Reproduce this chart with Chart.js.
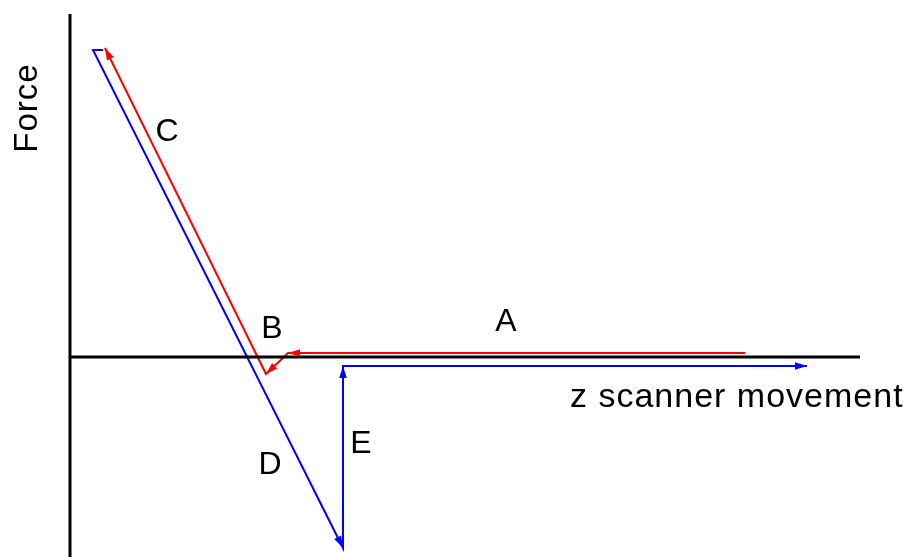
<!DOCTYPE html>
<html>
<head>
<meta charset="utf-8">
<script src="https://cdn.jsdelivr.net/npm/chart.js@4/dist/chart.umd.min.js"></script>
<style>
  html, body { margin: 0; padding: 0; background: #ffffff; }
  canvas { display: block; }
</style>
</head>
<body>
<canvas id="fc" width="914" height="557"></canvas>
<script>
// Force–distance cycle of an AFM cantilever (arbitrary units)
const axisZ = [0, 79];            // z scanner axis extent
const axisF = [-20, 34.3];        // force axis extent

// approach: A (free), B (snap-in), C (contact loading)
const approachZ = [67.5, 21.8, 19.6, 3.5];
const approachF = [0.4, 0.4, -1.7, 30.9];
const approachArrows = [1, 2, 3];

// retract: D (unloading / adhesion), E (pull-off), then free again
const retractZ = [3.3, 2.3, 27.3, 27.3, 73.7];
const retractF = [30.7, 30.7, -19.1, -0.9, -0.9];
const retractArrows = [2, 3, 4];

const segLabels = ['A', 'B', 'C', 'D', 'E'];
const segLabelZ = [43.6, 20.2, 9.7, 20.0, 29.1];
const segLabelF = [3.8, 3.1, 22.8, -10.5, -8.4];

const xTitle = 'z scanner movement';
const yTitle = 'Force';

const pts = (xs, ys) => xs.map((x, i) => ({ x: x, y: ys[i] }));

const FAMILY = '"Liberation Sans", Arial, sans-serif';

const arrowPlugin = {
  id: 'arrowHeads',
  afterDatasetsDraw(chart) {
    const ctx = chart.ctx;
    chart.data.datasets.forEach((ds, di) => {
      if (!ds.arrows) return;
      const meta = chart.getDatasetMeta(di);
      ds.arrows.forEach(i => {
        const p = meta.data[i], q = meta.data[i - 1];
        const a = Math.atan2(p.y - q.y, p.x - q.x);
        const len = 12, hw = 3.8;
        ctx.save();
        ctx.translate(p.x, p.y);
        ctx.rotate(a);
        ctx.beginPath();
        ctx.moveTo(0, 0);
        ctx.lineTo(-len, -hw);
        ctx.lineTo(-len, hw);
        ctx.closePath();
        ctx.fillStyle = ds.borderColor;
        ctx.fill();
        ctx.restore();
      });
    });
  }
};

const textPlugin = {
  id: 'diagramText',
  afterDraw(chart) {
    const ctx = chart.ctx;
    const xs = chart.scales.x, ys = chart.scales.y;
    ctx.save();
    ctx.fillStyle = '#000000';
    ctx.font = '32px ' + FAMILY;
    ctx.textAlign = 'center';
    ctx.textBaseline = 'alphabetic';
    const capHalf = 11.5;
    segLabels.forEach((t, i) => {
      ctx.fillText(t, xs.getPixelForValue(segLabelZ[i]), ys.getPixelForValue(segLabelF[i]) + capHalf);
    });
    // axis titles
    ctx.font = '34px ' + FAMILY;
    ctx.letterSpacing = '1px';
    ctx.textAlign = 'left';
    ctx.fillText(xTitle, xs.getPixelForValue(50), ys.getPixelForValue(-5));
    ctx.font = '33px ' + FAMILY;
    ctx.translate(xs.getPixelForValue(-3.3), ys.getPixelForValue(24.9));
    ctx.rotate(-Math.PI / 2);
    ctx.textAlign = 'center';
    ctx.fillText(yTitle, 0, 0);
    ctx.restore();
  }
};

new Chart(document.getElementById('fc'), {
  type: 'scatter',
  data: {
    datasets: [
      { data: pts([0, 0], axisF), borderColor: '#000000', borderWidth: 3 },
      { data: pts(axisZ, [0, 0]), borderColor: '#000000', borderWidth: 3 },
      { data: pts(approachZ, approachF), borderColor: '#ff0000', borderWidth: 2, arrows: approachArrows },
      { data: pts(retractZ, retractF), borderColor: '#0000ff', borderWidth: 2, arrows: retractArrows }
    ]
  },
  options: {
    responsive: false,
    animation: false,
    devicePixelRatio: 1,
    layout: { padding: 0 },
    datasets: { scatter: { showLine: true, pointRadius: 0, tension: 0, fill: false, clip: false } },
    plugins: { legend: { display: false }, tooltip: { enabled: false } },
    scales: {
      x: { type: 'linear', min: -7, max: 84.4, display: false },
      y: { type: 'linear', min: -20, max: 35.7, display: false }
    }
  },
  plugins: [arrowPlugin, textPlugin]
});
</script>
</body>
</html>
